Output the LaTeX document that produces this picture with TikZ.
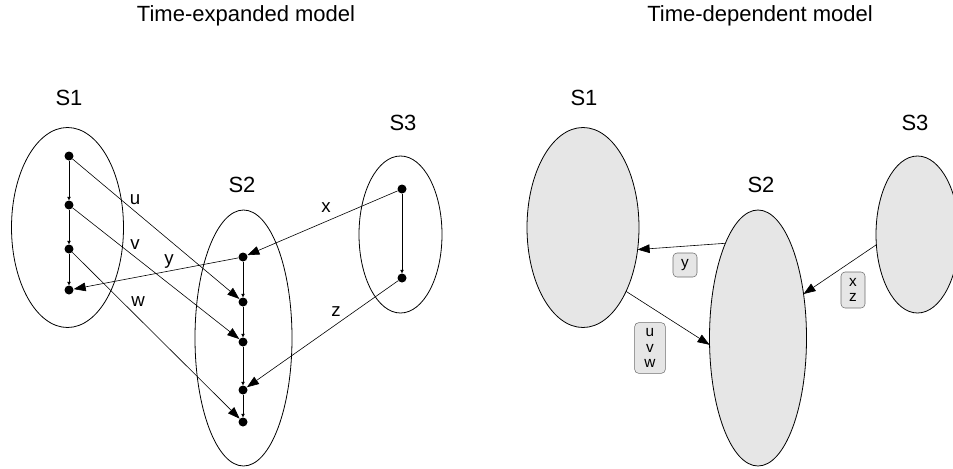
\documentclass[tikz,border=0pt]{standalone}
\usepackage{fontspec}
\setmainfont{Liberation Sans}
\usepackage{xcolor}
\usetikzlibrary{arrows.meta,shapes.geometric}
\definecolor{setgray}{RGB}{230, 230, 230}
\definecolor{boxline}{RGB}{110, 110, 110}

\tikzset{
  setnode/.style={ellipse, draw, line width=0.6pt, inner sep=0pt, outer sep=0pt},
  dot/.style={circle, fill, inner sep=0pt, minimum size=6.75pt},
  bigarrow/.style={-{Triangle[length=9pt,width=6.5pt]}, line width=0.45pt},
  smallarrow/.style={-{Triangle[length=2.5pt,width=2.5pt]}, line width=0.45pt},
  lbl/.style={font=\fontsize{14}{16}\selectfont},
  setlbl/.style={font=\fontsize{16.5}{19}\selectfont},
  tagbox/.style={draw=boxline, fill=setgray, rounded corners=3pt, inner sep=1pt, align=center,
    font=\fontsize{11.5}{11.5}\selectfont}
}

\begin{document}
\begin{tikzpicture}[x=0.75pt, y=-0.75pt]
\useasboundingbox (0,0) rectangle (953,468);
\clip (0,0) rectangle (953,468);

% Time-expanded model
\begin{scope}
\node[setlbl] (title1) at (246,16) {Time-expanded model};

% sets
\node[setnode, minimum width=84pt, minimum height=150pt] (s1) at (67.5,227.5) {};
\node[setnode, minimum width=72.75pt, minimum height=192pt] (s2) at (243.5,338) {};
\node[setnode, minimum width=62.25pt, minimum height=117.75pt] (s3) at (400.5,234.5) {};
\node[setlbl] (s1lbl) at (69,98) {S1};
\node[setlbl] (s2lbl) at (242,185) {S2};
\node[setlbl] (s3lbl) at (403,123) {S3};

% time points
\node[dot] (a1) at (69,156) {};
\node[dot] (a2) at (69,205) {};
\node[dot] (a3) at (69,249) {};
\node[dot] (a4) at (69,290) {};
\node[dot] (b1) at (243,257) {};
\node[dot] (b2) at (243,302) {};
\node[dot] (b3) at (243,342) {};
\node[dot] (b4) at (243,390) {};
\node[dot] (b5) at (243,422) {};
\node[dot] (c1) at (402,189) {};
\node[dot] (c2) at (402,278) {};

% waiting arcs
\draw[smallarrow] (a1) -- (a2);
\draw[smallarrow] (a2) -- (a3);
\draw[smallarrow] (a3) -- (a4);
\draw[smallarrow] (b1) -- (b2);
\draw[smallarrow] (b2) -- (b3);
\draw[smallarrow] (b3) -- (b4);
\draw[smallarrow] (b4) -- (b5);
\draw[smallarrow] (c1) -- (c2);

% connections
\draw[bigarrow] (a1) -- (b2);
\draw[bigarrow] (a2) -- (b3);
\draw[bigarrow] (a3) -- (b5);
\draw[bigarrow] (b1) -- (a4);
\draw[bigarrow] (c1) -- (b1);
\draw[bigarrow] (c2) -- (b4);

\node[lbl] (lu) at (135,200) {u};
\node[lbl] (lv) at (135,245) {v};
\node[lbl] (ly) at (169,262) {y};
\node[lbl] (lw) at (138,302) {w};
\node[lbl] (lx) at (326,208) {x};
\node[lbl] (lz) at (336,312) {z};
\end{scope}

% Time-dependent model
\begin{scope}[shift={(515,0)}]
\node[setlbl] (title2) at (245,16) {Time-dependent model};

% sets
\node[setnode, fill=setgray, minimum width=84pt, minimum height=150pt] (t1) at (68,227.5) {};
\node[setnode, fill=setgray, minimum width=72.75pt, minimum height=192pt] (t2) at (243,338) {};
\node[setnode, fill=setgray, minimum width=62.25pt, minimum height=117.75pt] (t3) at (402.5,234.5) {};
\node[setlbl] (t1lbl) at (69,98) {S1};
\node[setlbl] (t2lbl) at (246,185) {S2};
\node[setlbl] (t3lbl) at (400,123) {S3};

% connections
\draw[bigarrow] (t2.109.5) -- (t1.338.6);
\draw[bigarrow] (t1.304.3) -- (t2.188.3);
\draw[bigarrow] (t3.194.9) -- (t2.44.4);

\node[tagbox, minimum width=18pt, minimum height=18pt] (ty) at (170,265) {y};
\node[tagbox, minimum width=23pt, minimum height=38pt] (tuvw) at (135,348) {u\\v\\w};
\node[tagbox, minimum width=18pt, minimum height=27pt] (txz) at (338,290) {x\\z};
\end{scope}
\end{tikzpicture}
\end{document}
